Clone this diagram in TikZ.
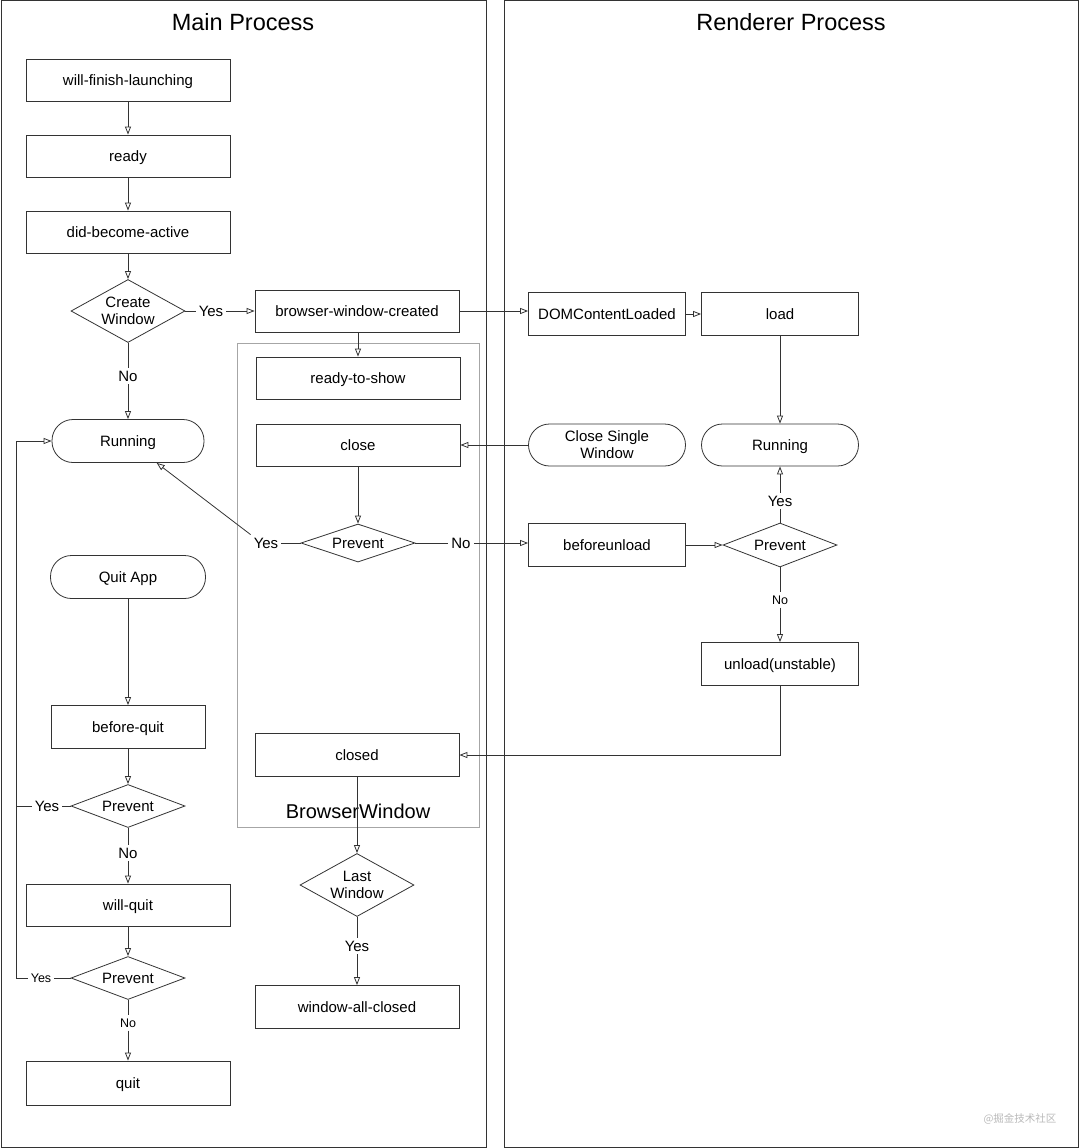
\documentclass[tikz,border=0pt]{standalone}
\usepackage{fontspec}
\setmainfont{Liberation Sans}
\newfontfamily\cjk{Noto Sans CJK SC}
\usetikzlibrary{arrows.meta,shapes.geometric}
\definecolor{ln}{HTML}{333333}
\newcommand\fs{\fontsize{15}{17}\selectfont}
\newcommand\fss{\fontsize{12.5}{15}\selectfont}
\begin{document}
\begin{tikzpicture}[x=1pt,y=-1pt,
  basebox/.style={draw=ln, line width=0.8pt, minimum width=204pt, minimum height=42pt, inner sep=0pt, font=\fs},
  box/.style={basebox, text height=12.5pt, text depth=2.5pt},
  rbox/.style={box, minimum width=157pt},
  term/.style={box, rounded corners=21pt},
  term2/.style={basebox, rounded corners=21pt, align=center},
  dia/.style={draw=ln, line width=0.8pt, diamond, inner sep=0pt, minimum width=114pt},
  dlab/.style={label={[font=\fs, align=center]center:#1}},
  lbl/.style={font=\fs, inner sep=3pt},
  con/.style={draw=ln, line width=0.8pt},
  arr/.style={draw=ln, line width=0.8pt, -{Triangle[open,length=8pt,width=6pt]}},
  lane/.style={draw=ln, line width=1pt},
  title/.style={font=\fontsize{23.5}{26}\selectfont}
]
\useasboundingbox (0,0) rectangle (1080,1148);
% lanes
\draw[lane] (1,1) rectangle (486,1147);
\draw[lane] (504,1) rectangle (1078,1147);
\node[title] (tmain) at (243,22) {Main Process};
\node[title] (trend) at (791,22) {Renderer Process};
% browser window group
\draw[draw=gray!70, line width=0.8pt] (237,343) rectangle (479,827);
\node[font=\fontsize{20}{22}\selectfont] (bwlab) at (358,811) {BrowserWindow};
% main column
\node[box] (wfl) at (128,80) {will-finish-launching};
\node[box] (ready) at (128,156) {ready};
\node[box] (dba) at (128,232) {did-become-active};
\node[dia, minimum height=63pt, dlab={Create\\Window}] (cw) at (128,311) {};
\node[lbl] (y1) at (211,311) {Yes};
\node[lbl] (n1) at (128,376) {No};
\node[term, minimum width=152pt, minimum height=43pt] (runL) at (128,441) {Running};
\node[term, minimum width=155pt, minimum height=43pt] (quitapp) at (128,577) {Quit App};
\node[box, minimum width=154pt, minimum height=43pt] (bq) at (128,727) {before-quit};
\node[dia, minimum height=43pt, dlab={Prevent}] (p1) at (128,806) {};
\node[lbl] (y2) at (47,806) {Yes};
\node[lbl] (n2) at (128,853) {No};
\node[box] (wq) at (128,905) {will-quit};
\node[dia, minimum height=43pt, dlab={Prevent}] (p2) at (128,978) {};
\node[lbl, font=\fss] (y3) at (41,978) {Yes};
\node[lbl, font=\fss] (n3) at (128,1023) {No};
\node[box, minimum height=44pt] (quit) at (128,1083) {quit};
% browser window column
\node[box] (bwc) at (357,311) {browser-window-created};
\node[box] (rts) at (358,378) {ready-to-show};
\node[box] (close) at (358,445) {close};
\node[dia, minimum height=38pt, dlab={Prevent}] (pm) at (358,543) {};
\node[lbl] (ym) at (266,543) {Yes};
\node[lbl] (nm) at (461,543) {No};
\node[box, minimum height=43pt] (closed) at (357,755) {closed};
\node[dia, minimum height=63pt, dlab={Last\\Window}] (lw) at (357,885) {};
\node[lbl] (ylw) at (357,946) {Yes};
\node[box, minimum height=43pt] (wac) at (357,1007) {window-all-closed};
% renderer
\node[rbox, minimum height=43pt] (dcl) at (607,314) {DOMContentLoaded};
\node[rbox, minimum height=43pt] (load) at (780,314) {load};
\node[term2, minimum width=157pt, minimum height=42pt] (csw) at (607,445) {Close Single\\Window};
\node[term, minimum width=157pt, minimum height=42pt] (runR) at (780,445) {Running};
\node[lbl] (yr) at (780,501) {Yes};
\node[rbox, minimum height=43pt] (bu) at (607,545) {beforeunload};
\node[dia, minimum height=44pt, dlab={Prevent}] (pr) at (780,545) {};
\node[lbl, font=\fss] (nr) at (780,600) {No};
\node[rbox, minimum height=43pt] (ul) at (780,664) {unload(unstable)};
% watermark
\node[text=gray!55, font=\cjk\fontsize{10.5}{12}\selectfont] (wm) at (1020,1119) {@掘金技术社区};
% coordinates for left loop
\coordinate (lpTop) at (16,441);
\coordinate (lpBot) at (16,978);
% connectors
\draw[arr] (wfl) -- (ready);
\draw[arr] (ready) -- (dba);
\draw[arr] (dba) -- (cw.north);
\draw[con] (cw.east) -- (y1.west);
\draw[arr] (y1.east) -- (bwc.west);
\draw[con] (cw.south) -- (n1.north);
\draw[arr] (n1.south) -- (runL.north);
\draw[arr] (bwc.south -| rts.north) -- (rts.north);
\draw[arr] (bwc.east) -- (bwc.east -| dcl.west);
\draw[arr] (dcl.east) -- (load.west);
\draw[arr] (load.south) -- (runR.north);
\draw[arr] (csw.west) -- (csw.west -| close.east);
\draw[arr] (close.south) -- (pm.north);
\draw[con] (pm.west) -- (ym.east);
\draw[arr] (ym.north west) -- (runL);
\draw[con] (pm.east) -- (nm.west);
\draw[arr] (nm.east) -- (nm.east -| bu.west);
\draw[arr] (bu.east) -- (pr.west);
\draw[con] (pr.north) -- (yr.south);
\draw[arr] (yr.north) -- (runR.south);
\draw[con] (pr.south) -- (nr.north);
\draw[arr] (nr.south) -- (ul.north);
\draw[arr] (ul.south) |- (closed.east);
\draw[arr] (closed.south) -- (lw.north);
\draw[con] (lw.south) -- (ylw.north);
\draw[arr] (ylw.south) -- (wac.north);
\draw[arr] (quitapp.south) -- (quitapp.south |- bq.north);
\draw[arr] (bq.south) -- (p1.north);
\draw[con] (p1.west) -- (y2.east);
\draw[con] (y2.west) -- (y2.west -| lpTop);
\draw[con] (p1.south) -- (n2.north);
\draw[arr] (n2.south) -- (n2.south |- wq.north);
\draw[arr] (wq.south -| p2.north) -- (p2.north);
\draw[con] (p2.west) -- (y3.east);
\draw[arr] (y3.west) -- (lpBot) -- (lpTop) -- (runL.west);
\draw[con] (p2.south) -- (n3.north);
\draw[arr] (n3.south) -- (n3.south |- quit.north);
\end{tikzpicture}
\end{document}
